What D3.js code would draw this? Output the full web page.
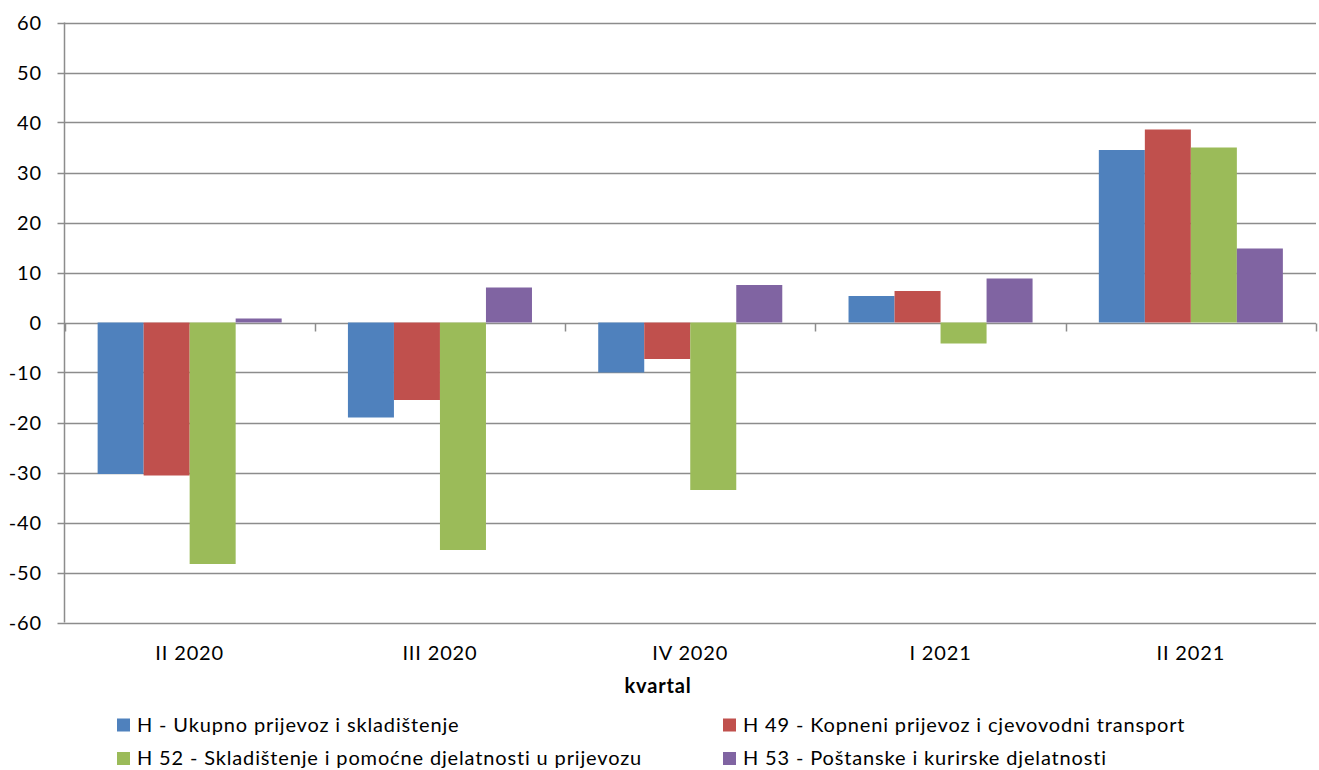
<!DOCTYPE html>
<html>
<head>
<meta charset="utf-8">
<script src="https://cdn.jsdelivr.net/npm/d3@7"></script>
<style>
  body { margin: 0; background: #fff; }
  text { font-family: Lato, "Open Sans", sans-serif; fill: #000; font-size: 20px; letter-spacing: 0.85px; }
</style>
</head>
<body>
<svg id="chart" width="1319" height="770"></svg>
<script>
// ----------

const CATEGORIES = ["II 2020", "III 2020", "IV 2020", "I 2021", "II 2021"];
const SERIES_NAMES = [
  "H - Ukupno prijevoz i skladištenje",
  "H 49 - Kopneni prijevoz i cjevovodni transport",
  "H 52 - Skladištenje i pomoćne djelatnosti u prijevozu",
  "H 53 - Poštanske i kurirske djelatnosti"
];
const H_TOTAL = [-30.3, -19.0, -10.0, 5.3, 34.5];
const H_49 = [-30.6, -15.5, -7.3, 6.3, 38.6];
const H_52 = [-48.3, -45.5, -33.5, -4.2, 35.0];
const H_53 = [0.8, 7.0, 7.5, 8.8, 14.8];
const Y_TICKS = [-60, -50, -40, -30, -20, -10, 0, 10, 20, 30, 40, 50, 60];
const COLORS = ["#4F81BD", "#C0504D", "#9BBB59", "#8064A2"];

const X_TITLE = "kvartal";

// ----------

const seriesValues = [H_TOTAL, H_49, H_52, H_53];

const plotLeft = 64.5, plotRight = 1316, plotTop = 22.5, plotBottom = 622.5;
const GRID = "#8c8c8c";

const svg = d3.select("#chart");

const y = d3.scaleLinear().domain([-60, 60]).range([plotBottom, plotTop]);
const x0 = d3.scaleBand().domain(CATEGORIES).range([plotLeft, plotRight]).padding(0);
const x1 = d3.scaleBand()
  .domain(d3.range(SERIES_NAMES.length))
  .range([0, x0.bandwidth()])
  .paddingInner(0)
  .paddingOuter(0.72);

// gridlines
svg.append("g")
  .selectAll("line")
  .data(Y_TICKS)
  .join("line")
  .attr("x1", plotLeft - 7)
  .attr("x2", plotRight)
  .attr("y1", d => Math.round(y(d)) + 0.5)
  .attr("y2", d => Math.round(y(d)) + 0.5)
  .attr("stroke", GRID)
  .attr("stroke-width", 1.5);

// y axis line
svg.append("line")
  .attr("x1", plotLeft).attr("x2", plotLeft)
  .attr("y1", plotTop).attr("y2", plotBottom)
  .attr("stroke", GRID)
  .attr("stroke-width", 1.5);

// y tick labels
svg.append("g")
  .selectAll("text")
  .data(Y_TICKS)
  .join("text")
  .attr("x", 42)
  .attr("y", d => y(d))
  .attr("dy", "0.36em")
  .attr("text-anchor", "end")
  .text(d => d);

// bars
const groups = svg.append("g")
  .selectAll("g")
  .data(CATEGORIES)
  .join("g")
  .attr("transform", d => "translate(" + x0(d) + ",0)");

groups.selectAll("rect")
  .data((c, i) => seriesValues.map((vals, s) => ({ s: s, v: vals[i] })))
  .join("rect")
  .attr("x", d => x1(d.s))
  .attr("width", x1.bandwidth())
  .attr("y", d => y(Math.max(0, d.v)))
  .attr("height", d => Math.abs(y(d.v) - y(0)))
  .attr("fill", d => COLORS[d.s]);

// category tick marks on the zero line
const zeroY = Math.round(y(0)) + 0.5;
svg.append("g")
  .selectAll("line")
  .data(CATEGORIES.map(c => x0(c)).concat([plotRight]))
  .join("line")
  .attr("x1", d => Math.round(d) + 0.5)
  .attr("x2", d => Math.round(d) + 0.5)
  .attr("y1", zeroY)
  .attr("y2", zeroY + 8)
  .attr("stroke", GRID)
  .attr("stroke-width", 1.5);

// category labels
svg.append("g")
  .selectAll("text")
  .data(CATEGORIES)
  .join("text")
  .attr("x", d => x0(d) + x0.bandwidth() / 2)
  .attr("y", 659.5)
  .attr("text-anchor", "middle")
  .text(d => d);

svg.append("text")
  .attr("x", 658)
  .attr("y", 692.5)
  .attr("text-anchor", "middle")
  .style("font-weight", "bold")
  .text(X_TITLE);

// legend
const legendPos = [[117, 731.5], [723, 731.5], [117, 765], [723, 765]];
const legend = svg.append("g")
  .selectAll("g")
  .data(SERIES_NAMES)
  .join("g")
  .attr("transform", (d, i) => "translate(" + legendPos[i][0] + "," + legendPos[i][1] + ")");

legend.append("rect")
  .attr("x", 0)
  .attr("y", -13)
  .attr("width", 13)
  .attr("height", 13)
  .attr("fill", (d, i) => COLORS[i]);

legend.append("text")
  .attr("x", 20)
  .attr("y", 0)
  .text(d => d);
</script>
</body>
</html>
